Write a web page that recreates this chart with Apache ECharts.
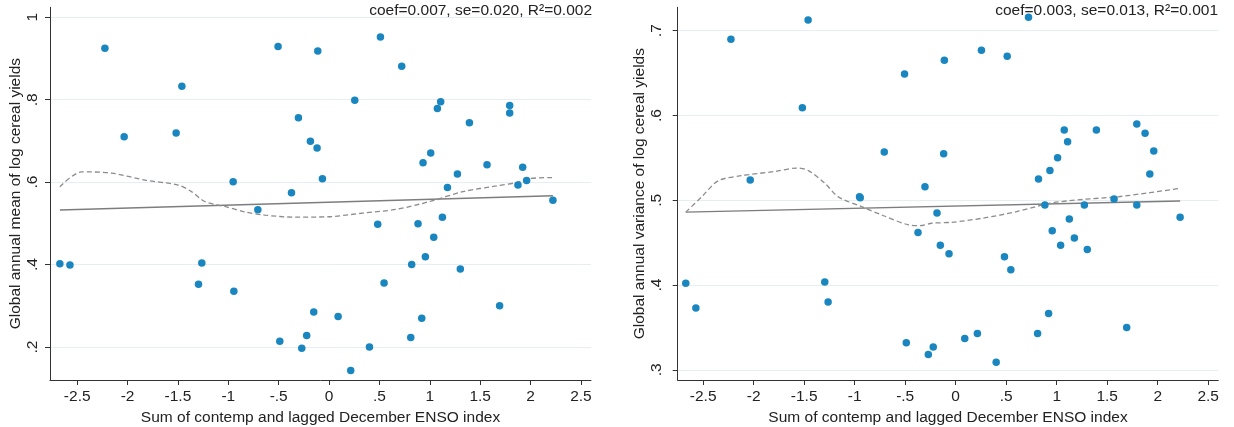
<!DOCTYPE html>
<html>
<head>
<meta charset="utf-8">
<script src="https://cdn.jsdelivr.net/npm/echarts@6/dist/echarts.min.js"></script>
<style>
html,body{margin:0;padding:0;background:#fff;}
#chart{width:1234px;height:427px;}
</style>
</head>
<body>
<div id="chart"></div>
<script>
// ENSO index (x), shared by both panels
const enso = [-2.672,-2.572,-2.225,-2.034,-1.518,-1.461,-1.296,-1.263,-0.952,-0.945,
  -0.707,-0.506,-0.489,-0.373,-0.304,-0.271,-0.222,-0.185,-0.152,-0.119,
  -0.112,-0.066,0.090,0.215,0.255,0.401,0.483,0.510,0.546,0.721,
  0.811,0.820,0.883,0.920,0.933,0.956,1.009,1.039,1.075,1.108,
  1.125,1.175,1.274,1.303,1.393,1.568,1.693,1.793,1.793,1.875,
  1.922,1.961,2.222];
// Global annual mean of log cereal yields
const meanYield = [0.402,0.399,0.925,0.710,0.719,0.833,0.352,0.404,0.601,0.335,
  0.533,0.929,0.214,0.574,0.756,0.197,0.228,0.699,0.285,0.683,
  0.918,0.608,0.274,0.143,0.799,0.200,0.498,0.952,0.355,0.881,
  0.223,0.400,0.499,0.270,0.647,0.419,0.671,0.466,0.779,0.795,
  0.515,0.587,0.620,0.389,0.744,0.642,0.300,0.786,0.768,0.593,
  0.636,0.604,0.556];
// Global annual variance of log cereal yields
const varYield = [0.402,0.373,0.690,0.524,0.609,0.7126,0.4037,0.380,0.504,0.503,
  0.557,0.649,0.332,0.462,0.516,0.318,0.327,0.485,0.447,0.555,
  0.665,0.437,0.337,0.3427,0.677,0.309,0.4335,0.670,0.418,0.716,
  0.3427,0.525,0.4945,0.3663,0.535,0.464,0.550,0.447,0.583,0.569,
  0.478,0.4555,0.4945,0.442,0.583,0.5015,0.350,0.4945,0.590,0.579,
  0.531,0.558,0.480];
// Linear fit endpoints
const fitX = [-2.672, 2.222];
const fitMean = [0.5325, 0.567];
const fitVar = [0.486, 0.4992];
// Lowess curves
const lowMeanX = [-2.672,-2.456,-2.159,-1.828,-1.498,-1.365,-1.233,-1.035,-0.836,-0.638,-0.340,-0.010,0.337,0.669,0.999,1.329,1.661,1.859,1.991,2.222];
const lowMeanY = [0.589,0.625,0.622,0.605,0.593,0.577,0.553,0.541,0.528,0.520,0.515,0.516,0.525,0.534,0.553,0.577,0.591,0.599,0.609,0.611];
const lowVarX = [-2.672,-2.515,-2.350,-2.119,-1.789,-1.574,-1.459,-1.294,-1.162,-0.931,-0.733,-0.469,-0.353,-0.238,-0.040,0.273,0.604,0.934,1.263,1.594,1.924,2.222];
const lowVarY = [0.486,0.504,0.523,0.529,0.534,0.538,0.535,0.520,0.504,0.4925,0.4827,0.471,0.470,0.4729,0.474,0.479,0.4866,0.4965,0.501,0.504,0.509,0.514];
// Tick labels
const xTicks = [-2.5,-2,-1.5,-1,-0.5,0,0.5,1,1.5,2,2.5];
const meanTicks = [0.2,0.4,0.6,0.8,1];
const varTicks = [0.3,0.4,0.5,0.6,0.7];
const statsMean = 'coef=0.007, se=0.020, R²=0.002';
const statsVar = 'coef=0.003, se=0.013, R²=0.001';
const xTitle = 'Sum of contemp and lagged December ENSO index';
const yTitleMean = 'Global annual mean of log cereal yields';
const yTitleVar = 'Global annual variance of log cereal yields';

const FONT = '"Liberation Sans", Arial, sans-serif';
const FS = 15.5;
const TXT = '#222';
const DOT = '#1a86c0';
const GRID = '#e4eef3';

function fmt(v){
  const s = String(Math.round(v*10)/10);
  return s.replace(/^(-?)0\./, '$1.');
}
function zip(a,b){ return a.map((v,i)=>[v,b[i]]); }

function xAxisFor(idx, min, max){
  return {
    type:'value', gridIndex: idx, min: min, max: max,
    name: xTitle, nameLocation:'middle', nameGap: 22,
    nameTextStyle:{fontFamily:FONT, fontSize:FS, color:TXT},
    axisLine:{show:true, onZero:false, lineStyle:{color:'#333', width:1}},
    axisTick:{show:true, length:5, customValues: xTicks, lineStyle:{color:'#333'}},
    axisLabel:{customValues: xTicks, formatter: fmt, fontFamily:FONT, fontSize:FS, color:TXT, margin:9},
    splitLine:{show:false}
  };
}
function yAxisFor(idx, min, max, ticks, title, gap, margin){
  return {
    type:'value', gridIndex: idx, min: min, max: max,
    name: title, nameLocation:'middle', nameGap: gap, nameRotate: 90,
    nameTextStyle:{fontFamily:FONT, fontSize:FS, color:TXT},
    axisLine:{show:true, onZero:false, lineStyle:{color:'#333', width:1}},
    axisTick:{show:true, length:5, customValues: ticks, lineStyle:{color:'#333'}},
    axisLabel:{customValues: ticks, formatter: fmt, rotate: 90, fontFamily:FONT, fontSize:FS, color:TXT, margin: margin},
    splitLine:{show:true, lineStyle:{color:GRID, width:1}}
  };
}

const chart = echarts.init(document.getElementById('chart'), null, {renderer:'canvas'});
chart.setOption({
  animation:false,
  backgroundColor:'#fff',
  title:[
    {text: statsMean, right: 1234-592, top: 3, padding:0, textStyle:{fontFamily:FONT, fontSize:FS, fontWeight:'normal', color:TXT}},
    {text: statsVar, right: 1234-1218, top: 3, padding:0, textStyle:{fontFamily:FONT, fontSize:FS, fontWeight:'normal', color:TXT}}
  ],
  grid:[
    {left:50, top:7.3, width:541, height:372.7, containLabel:false, outerBoundsMode:'none'},
    {left:677.7, top:7.3, width:540.6, height:372.7, containLabel:false, outerBoundsMode:'none'}
  ],
  xAxis:[ xAxisFor(0, -2.77, 2.6), xAxisFor(1, -2.752, 2.6) ],
  yAxis:[ yAxisFor(0, 0.1199, 1.0243, meanTicks, yTitleMean, 19, 9),
          yAxisFor(1, 0.288, 0.7276, varTicks, yTitleVar, 26, 13) ],
  series:[
    {type:'line', xAxisIndex:0, yAxisIndex:0, data: zip(fitX, fitMean), symbol:'none',
      lineStyle:{color:'#7d7d7d', width:1.4}, z:2},
    {type:'line', xAxisIndex:0, yAxisIndex:0, data: zip(lowMeanX, lowMeanY), symbol:'none', smooth:0.3,
      lineStyle:{color:'#8c8c8c', width:1.3, type:[5,3]}, z:2},
    {type:'scatter', xAxisIndex:0, yAxisIndex:0, data: zip(enso, meanYield), symbolSize:7.5,
      itemStyle:{color:DOT, opacity:1}, z:3},
    {type:'line', xAxisIndex:1, yAxisIndex:1, data: zip(fitX, fitVar), symbol:'none',
      lineStyle:{color:'#7d7d7d', width:1.4}, z:2},
    {type:'line', xAxisIndex:1, yAxisIndex:1, data: zip(lowVarX, lowVarY), symbol:'none', smooth:0.3,
      lineStyle:{color:'#8c8c8c', width:1.3, type:[5,3]}, z:2},
    {type:'scatter', xAxisIndex:1, yAxisIndex:1, data: zip(enso, varYield), symbolSize:7.5,
      itemStyle:{color:DOT, opacity:1}, z:3}
  ]
});
</script>
</body>
</html>
